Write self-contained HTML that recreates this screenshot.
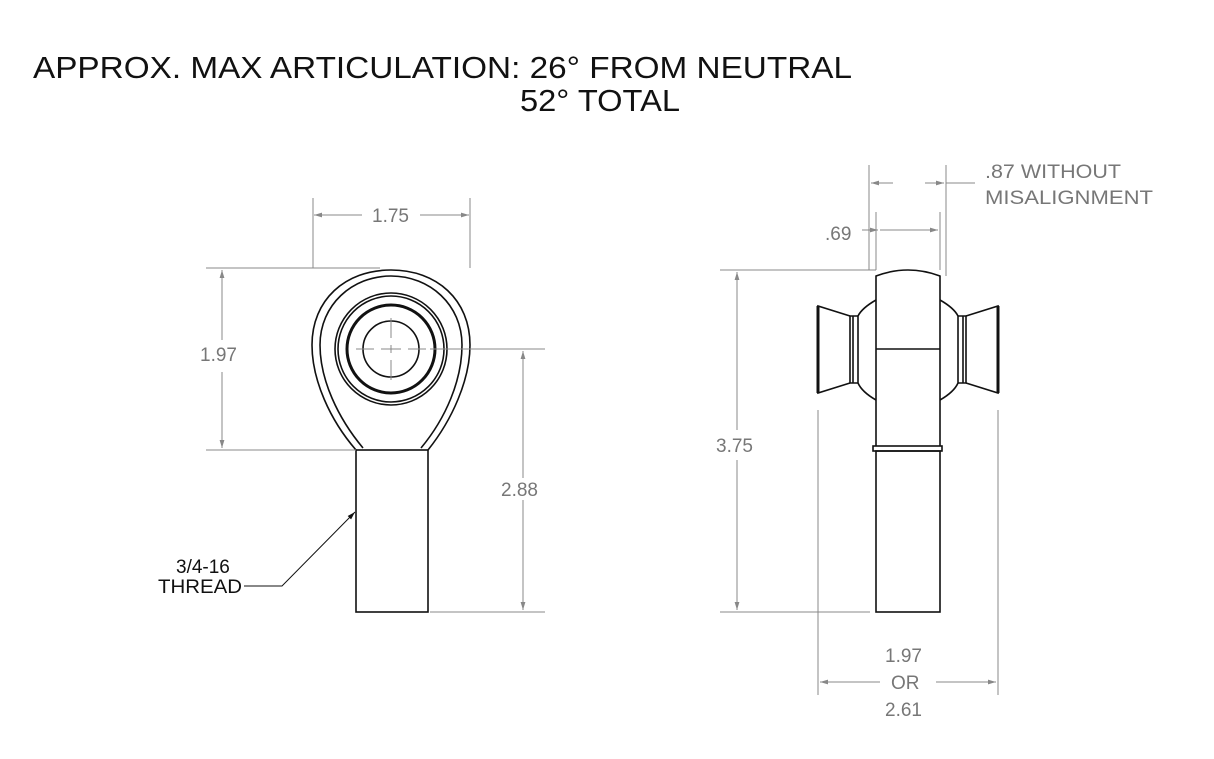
<!DOCTYPE html>
<html><head><style>
body{margin:0;background:#fff}
svg{display:block}
text{font-family:"Liberation Sans",sans-serif;fill:#777;font-size:19px}
.t{fill:#111;font-size:31px}
.d{stroke:#888;stroke-width:1;fill:none}
.k{stroke:#111;stroke-width:1.6;fill:none}
.kk{stroke:#111;stroke-width:3;fill:none}
</style></head><body>
<svg width="1214" height="759" viewBox="0 0 1214 759" xmlns="http://www.w3.org/2000/svg">
<defs><marker id="a" viewBox="0 0 10 10" refX="10" refY="5" markerWidth="12" markerHeight="8" orient="auto" markerUnits="userSpaceOnUse"><path d="M0,2 L10,5 L0,8z" fill="#888"/></marker>
<marker id="b" viewBox="0 0 10 10" refX="10" refY="5" markerWidth="14" markerHeight="8" orient="auto" markerUnits="userSpaceOnUse"><path d="M0,2 L10,5 L0,8z" fill="#111"/></marker></defs>
<text class="t" x="33" y="78" textLength="819" lengthAdjust="spacingAndGlyphs">APPROX. MAX ARTICULATION: 26° FROM NEUTRAL</text>
<text class="t" x="520" y="111" textLength="160" lengthAdjust="spacingAndGlyphs">52° TOTAL</text>

<path class="k" d="M356,450 C330,420 312,380 312,345 C312,300 345,270 391,270 C437,270 470,300 470,345 C470,380 452,420 428,450"/>
<path class="k" d="M363,448 C338,418 320,380 320,345 C320,305 352,276 391,276 C430,276 462,305 462,345 C462,380 446,418 421,448"/>
<circle class="k" cx="391" cy="349" r="56"/>
<circle class="k" cx="391" cy="349" r="53"/>
<circle class="kk" cx="391" cy="349" r="44"/>
<circle class="k" cx="391" cy="349" r="28"/>
<path class="d" d="M356,349 h18 M381,349 h20 M408,349 h18 M391,318 v20 M391,345 v8 M391,360 v20"/>
<rect class="k" x="356" y="450" width="72" height="162"/>
<path class="d" d="M313,268 V198 M470,268 V198 M206,268 H380 M206,450 H356 M430,349 H545 M430,612 H545"/>
<path class="d" d="M362,215 H314" marker-end="url(#a)"/>
<path class="d" d="M420,215 H469" marker-end="url(#a)"/>
<text x="372" y="222">1.75</text>
<path class="d" d="M222,340 V270" marker-end="url(#a)"/><path class="d" d="M222,372 V448" marker-end="url(#a)"/>
<text x="200" y="361">1.97</text>
<path class="d" d="M523,478 V351" marker-end="url(#a)"/><path class="d" d="M523,500 V610" marker-end="url(#a)"/>
<text x="501" y="496">2.88</text>
<text x="176" y="573" style="fill:#111">3/4-16</text>
<text x="158" y="593" style="fill:#111" textLength="84" lengthAdjust="spacingAndGlyphs">THREAD</text>
<path d="M244,586 H282 L355,512" stroke="#111" stroke-width="1" fill="none" marker-end="url(#b)"/>

<path class="k" d="M876,446 V276 Q908,264 940,276 V446"/>
<path class="k" d="M876,349 H940"/>
<rect class="k" x="873" y="446" width="69" height="5"/>
<rect class="k" x="876" y="451" width="64" height="161"/>
<path class="k" d="M876,300 Q862,308 858,316 V383 Q862,392 876,400"/>
<path class="k" d="M940,300 Q954,308 958,316 V383 Q954,392 940,400"/>
<path class="k" d="M858,316 H850 V383 H858 M853,316 V383"/>
<path class="k" d="M958,316 H966 V383 H958 M963,316 V383"/>
<path class="k" d="M850,316 L818,306 V393 L850,383"/>
<path class="k" d="M966,316 L998,306 V393 L966,383"/>
<path class="kk" d="M818,306 V393 M998,306 V393"/>
<path class="d" d="M869,270 V165 M946,276 V165 M876,270 V212 M940,270 V212"/>
<path class="d" d="M893,183 H871" marker-end="url(#a)"/><path class="d" d="M925,183 H944" marker-end="url(#a)"/>
<path class="d" d="M946,183 H975"/>
<text x="985" y="178" textLength="136" lengthAdjust="spacingAndGlyphs">.87 WITHOUT</text>
<text x="985" y="204" textLength="168" lengthAdjust="spacingAndGlyphs">MISALIGNMENT</text>
<path class="d" d="M862,230 H878" marker-end="url(#a)"/><path class="d" d="M895,230 H938" marker-end="url(#a)"/>
<path class="d" d="M880,230 H895"/>
<text x="825" y="240">.69</text>
<path class="d" d="M720,270 H876 M720,612 H870"/>
<path class="d" d="M737,430 V272" marker-end="url(#a)"/><path class="d" d="M737,460 V610" marker-end="url(#a)"/>
<text x="716" y="452">3.75</text>
<path class="d" d="M818,410 V695 M998,410 V695"/>
<path class="d" d="M880,682 H820" marker-end="url(#a)"/><path class="d" d="M936,682 H996" marker-end="url(#a)"/>
<text x="885" y="662">1.97</text>
<text x="891" y="689">OR</text>
<text x="885" y="716">2.61</text>
</svg>
</body></html>
